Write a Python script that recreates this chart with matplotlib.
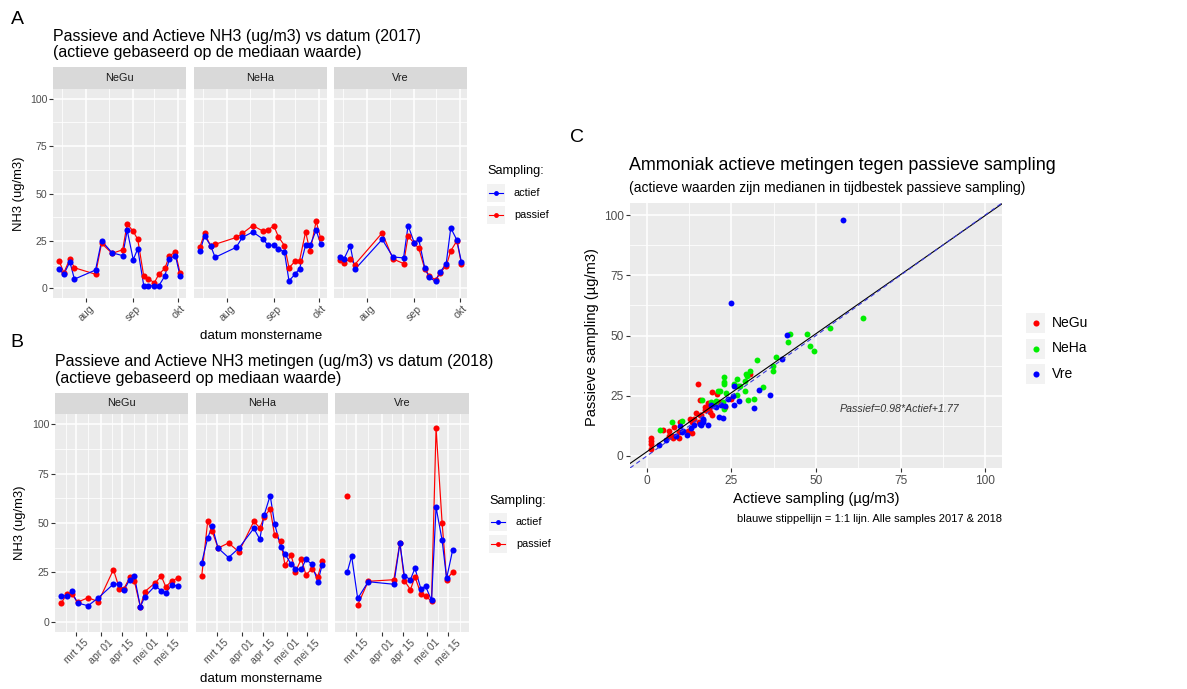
import matplotlib
matplotlib.use("Agg")
import matplotlib.pyplot as plt
import matplotlib.dates as mdates
import numpy as np

plt.rcParams['font.family'] = ['Liberation Sans', 'DejaVu Sans']

W, H = 1187, 689
nan = np.nan

sites = ["NeGu", "NeHa", "Vre"]
site_colors = ["#FF0000", "#00EE00", "#0000FF"]

# --- 2017 sampling days and NH3 values (ug/m3)
dates_2017 = ["2017-07-14", "2017-07-17", "2017-07-21", "2017-07-24", "2017-08-07",
              "2017-08-11", "2017-08-18", "2017-08-25", "2017-08-28", "2017-09-01",
              "2017-09-04", "2017-09-08", "2017-09-11", "2017-09-15", "2017-09-18",
              "2017-09-22", "2017-09-25", "2017-09-29", "2017-10-02"]
negu_act_17 = [9.9, 7.4, 13.9, 4.8, 9.6, 25.0, 18.7, 17.2, 30.6, 15.1, 20.8, 1.3, 1.3, 1.3, 1.3, 6.5, 15.6, 17.2, 6.5]
negu_pas_17 = [14.2, 8.2, 15.5, 10.8, 7.4, 23.7, 18.4, 20.3, 34.0, 30.0, 25.8, 6.2, 5.0, 2.9, 7.4, 10.5, 17.2, 19.0, 8.2]
neha_act_17 = [19.7, 27.6, 22.5, 16.3, 21.6, 26.8, 29.7, 25.8, 22.7, 22.7, 20.9, 18.9, 3.9, 7.4, 10.3, 22.7, 22.7, 30.6, 23.4]
neha_pas_17 = [22.0, 28.9, 22.5, 23.2, 26.8, 28.9, 33.1, 30.0, 30.9, 32.8, 27.1, 22.5, 10.8, 14.2, 14.6, 29.7, 19.4, 35.4, 26.3]
vre_act_17 = [16.5, 15.6, 22.5, 9.9, nan, 25.8, 16.5, 16.0, 33.1, 24.0, 25.8, 10.5, 5.7, 3.6, 8.5, 12.9, 31.8, 25.5, 13.9]
vre_pas_17 = [15.1, 13.4, 15.6, 12.5, nan, 29.2, 15.5, 13.0, 27.5, 23.7, 21.1, 10.0, 6.5, 4.4, 8.2, 11.7, 19.7, 25.0, 12.9]

# --- 2018 sampling days and NH3 values (ug/m3)
dates_2018 = ["2018-03-05", "2018-03-09", "2018-03-12", "2018-03-16", "2018-03-23",
              "2018-03-30", "2018-04-09", "2018-04-13", "2018-04-16", "2018-04-20",
              "2018-04-23", "2018-04-27", "2018-04-30", "2018-05-04", "2018-05-07",
              "2018-05-11", "2018-05-14", "2018-05-18", "2018-05-22", "2018-05-25"]
negu_act_18 = [13.2, 13.2, 15.4, 9.6, 8.1, 12.2, 19.1, 19.1, 16.1, 21.4, 23.0, 7.6, 12.7, nan, 18.3, 15.6, 14.6, 18.6, 18.1, nan]
negu_pas_18 = [9.4, 14.1, 14.3, 9.9, 12.2, 10.2, 26.4, 16.8, 16.8, 22.5, 20.5, 7.6, 15.3, nan, 19.8, 23.1, 17.7, 20.7, 22.1, nan]
neha_act_18 = [30.0, 42.4, 48.3, 37.3, 32.5, 37.3, 47.3, 41.8, 54.2, 63.9, 49.5, 38.1, 34.3, 29.2, 26.6, 26.6, 31.6, 29.1, 20.3, 29.0]
neha_pas_18 = [23.2, 50.8, 45.8, 37.3, 39.9, 35.4, 50.8, 47.5, 53.2, 57.1, 43.7, 41.1, 28.5, 33.9, 25.4, 31.9, 23.7, 26.8, 22.9, 31.0]
vre_act_18 = [nan, 25.0, 33.2, 11.8, 20.3, nan, 19.0, 39.8, 23.2, 21.4, 27.1, 16.5, 18.1, 10.8, 58.0, 41.3, 22.0, 36.3, nan, nan]
vre_pas_18 = [nan, 63.5, nan, 8.5, 20.5, nan, 21.3, 40.1, 20.8, 16.3, 22.8, 14.0, 13.0, 10.5, 98.0, 50.2, 21.3, 25.3, nan, nan]

ticks_2017 = ["2017-08-01", "2017-09-01", "2017-10-01"]
ticklabels_2017 = ["aug", "sep", "okt"]
minor_2017 = ["2017-07-16", "2017-08-16", "2017-09-15"]
ticks_2018 = ["2018-03-15", "2018-04-01", "2018-04-15", "2018-05-01", "2018-05-15"]
ticklabels_2018 = ["mrt 15", "apr 01", "apr 15", "mei 01", "mei 15"]
minor_2018 = ["2018-03-08", "2018-03-23", "2018-04-08", "2018-04-23", "2018-05-08", "2018-05-23"]

# regression from the scatter panel
slope, intercept = 0.98, 1.77

fig = plt.figure(figsize=(W / 100, H / 100), dpi=100)
fig.patch.set_facecolor("white")

PANEL_BG = "#EBEBEB"
STRIP_BG = "#D9D9D9"
TICK_TXT = "#4D4D4D"


def ax_px(x0, y0, x1, y1):
    return fig.add_axes([x0 / W, 1 - y1 / H, (x1 - x0) / W, (y1 - y0) / H])


def txt(x, y, s, **kw):
    return fig.text(x / W, 1 - y / H, s, **kw)


def bare(ax):
    for sp in ax.spines.values():
        sp.set_visible(False)
    ax.set_xticks([])
    ax.set_yticks([])


def style_grid(ax):
    ax.set_facecolor(PANEL_BG)
    for sp in ax.spines.values():
        sp.set_visible(False)
    ax.set_axisbelow(True)
    ax.grid(which="major", color="white", lw=1.1)
    ax.grid(which="minor", color="white", lw=0.55)
    ax.tick_params(which="major", length=2.7, width=0.8, color="#333333",
                   labelcolor=TICK_TXT, labelsize=7.6, pad=1.5)
    ax.tick_params(which="minor", length=0)


def facet_row(dates, series, panel_x, y_strip, y_top, y_bot, ticks, ticklabels, minors):
    d = mdates.datestr2num(dates)
    span = d.max() - d.min()
    xlim = (d.min() - 0.05 * span, d.max() + 0.05 * span)
    for i, site in enumerate(sites):
        x0, x1 = panel_x[i]
        strip = ax_px(x0, y_strip, x1, y_top)
        strip.set_facecolor(STRIP_BG)
        bare(strip)
        strip.text(0.5, 0.5, site, ha="center", va="center", fontsize=7.8,
                   color="#1A1A1A", transform=strip.transAxes)

        ax = ax_px(x0, y_top, x1, y_bot)
        style_grid(ax)
        act = np.array(series[i][0], dtype=float)
        pas = np.array(series[i][1], dtype=float)
        keep = ~(np.isnan(act) & np.isnan(pas))
        ax.plot(d[keep], pas[keep], color="#FF0000", lw=0.85)
        ax.plot(d[keep], act[keep], color="#0000FF", lw=0.85)
        ax.plot(d[keep], pas[keep], "o", color="#FF0000", ms=4.4, mew=0)
        ax.plot(d[keep], act[keep], "o", color="#0000FF", ms=4.4, mew=0)

        ax.set_xlim(*xlim)
        ax.set_ylim(-5, 105)
        ax.set_yticks([0, 25, 50, 75, 100])
        ax.set_yticks([12.5, 37.5, 62.5, 87.5], minor=True)
        ax.set_xticks(mdates.datestr2num(ticks))
        ax.set_xticks(mdates.datestr2num(minors), minor=True)
        ax.set_xticklabels(ticklabels, rotation=45, ha="center", va="top")
        if i > 0:
            ax.tick_params(axis="y", left=False, labelleft=False)


def sampling_legend(x0, y_title, y_first):
    txt(x0, y_title, "Sampling:", fontsize=9.2, va="center", ha="left")
    for j, (lab, col) in enumerate([("actief", "#0000FF"), ("passief", "#FF0000")]):
        yc = y_first + j * 22
        k = ax_px(x0, yc - 9, x0 + 18, yc + 9)
        k.set_facecolor("#F2F2F2")
        bare(k)
        k.set_xlim(0, 1)
        k.set_ylim(0, 1)
        k.plot([0.1, 0.9], [0.5, 0.5], color=col, lw=0.8)
        k.plot([0.5], [0.5], "o", color=col, ms=3.5, mew=0)
        txt(x0 + 27, yc, lab, fontsize=7.8, va="center", ha="left")


# ---------------- A: 2017 ----------------
series_2017 = [(negu_act_17, negu_pas_17), (neha_act_17, neha_pas_17), (vre_act_17, vre_pas_17)]
facet_row(dates_2017, series_2017, [(53.3, 186), (194, 326.7), (333.5, 467.5)],
          66.7, 89.3, 297.7, ticks_2017, ticklabels_2017, minor_2017)
txt(17, 20, "A", fontsize=14, ha="center", va="center")
txt(53, 36, "Passieve and Actieve NH3 (ug/m3) vs datum (2017)", fontsize=11.5, va="center")
txt(53, 53, "(actieve gebaseerd op de mediaan waarde)", fontsize=11.5, va="center")
txt(19, 194, "NH3 (ug/m3)", fontsize=9.4, rotation=90, ha="center", va="center")
txt(261, 336, "datum monstername", fontsize=9.6, ha="center", va="center")
sampling_legend(487, 171, 193)

# ---------------- B: 2018 ----------------
series_2018 = [(negu_act_18, negu_pas_18), (neha_act_18, neha_pas_18), (vre_act_18, vre_pas_18)]
facet_row(dates_2018, series_2018, [(55, 188.3), (195.7, 328.3), (335, 469.3)],
          392.7, 414.3, 631.7, ticks_2018, ticklabels_2018, minor_2018)
txt(17, 343, "B", fontsize=14, ha="center", va="center")
txt(55, 362, "Passieve and Actieve NH3 metingen (ug/m3) vs datum (2018)", fontsize=11.5, va="center")
txt(55, 379, "(actieve gebaseerd op mediaan waarde)", fontsize=11.5, va="center")
txt(20, 523, "NH3 (ug/m3)", fontsize=9.4, rotation=90, ha="center", va="center")
txt(261, 679, "datum monstername", fontsize=9.6, ha="center", va="center")
sampling_legend(489, 501, 522)

# ---------------- C: actief vs passief, both years ----------------
axc = ax_px(630, 203, 1002, 468)
style_grid(axc)
axc.tick_params(which="major", labelsize=8.6, pad=2)
for i, site in enumerate(sites):
    a = np.concatenate([series_2017[i][0], series_2018[i][0]])
    p = np.concatenate([series_2017[i][1], series_2018[i][1]])
    ok = ~np.isnan(a) & ~np.isnan(p)
    axc.scatter(a[ok], p[ok], s=18, color=site_colors[i], linewidths=0, zorder=3)

xs = np.array([-5, 105])
axc.plot(xs, slope * xs + intercept, color="black", lw=0.8, zorder=4)
axc.plot(xs, xs, color="#3A3ADD", lw=0.8, ls=(0, (4, 3)), zorder=4)
axc.set_xlim(-5, 105)
axc.set_ylim(-5, 105)
axc.set_xticks([0, 25, 50, 75, 100])
axc.set_yticks([0, 25, 50, 75, 100])
axc.set_xticks([12.5, 37.5, 62.5, 87.5], minor=True)
axc.set_yticks([12.5, 37.5, 62.5, 87.5], minor=True)
axc.text(74.8, 19.4, f"Passief={slope:.2f}*Actief+{intercept:.2f}", fontsize=7.7,
         style="italic", color="#333333", ha="center", va="center", zorder=5)

txt(577, 138, "C", fontsize=14, ha="center", va="center")
txt(629, 166, "Ammoniak actieve metingen tegen passieve sampling", fontsize=12.9, va="center")
txt(629, 188, "(actieve waarden zijn medianen in tijdbestek passieve sampling)", fontsize=10, va="center")
txt(592, 337, "Passieve sampling (\u00b5g/m3)", fontsize=10.5, rotation=90, ha="center", va="center")
txt(816, 499, "Actieve sampling (\u00b5g/m3)", fontsize=10.5, ha="center", va="center")
txt(1002, 519, "blauwe stippellijn = 1:1 lijn. Alle samples 2017 & 2018", fontsize=8,
    ha="right", va="center")

for j, site in enumerate(sites):
    yc = 323 + j * 25.5
    k = ax_px(1026, yc - 10, 1045, yc + 10)
    k.set_facecolor("#F2F2F2")
    bare(k)
    k.set_xlim(0, 1)
    k.set_ylim(0, 1)
    k.plot([0.5], [0.5], "o", color=site_colors[j], ms=4.4, mew=0)
    txt(1052, yc, site, fontsize=10, va="center", ha="left")

fig.savefig("out.png", dpi=100)
